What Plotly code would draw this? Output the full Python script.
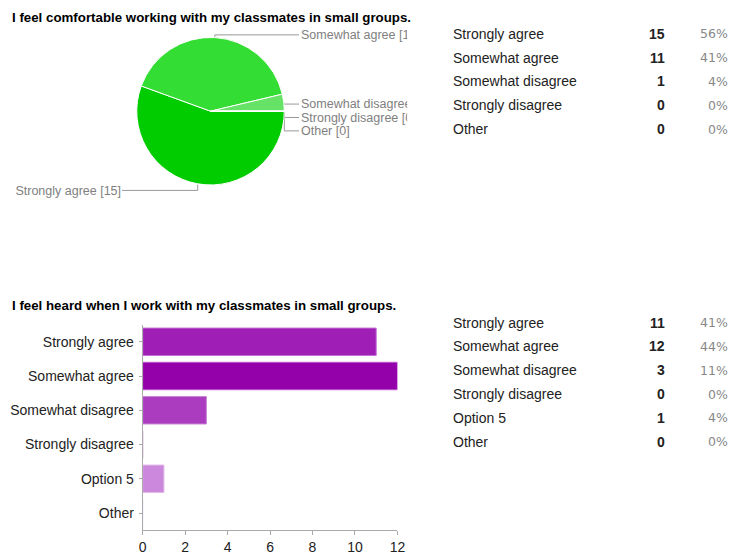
import math
import plotly.graph_objects as go

W, H = 729, 555

# ---------------- data ----------------
title1 = "I feel comfortable working with my classmates in small groups."
cats1 = ["Strongly agree", "Somewhat agree", "Somewhat disagree", "Strongly disagree", "Other"]
vals1 = [15, 11, 1, 0, 0]
pcts1 = ["56%", "41%", "4%", "0%", "0%"]
colors1 = ["#00cc00", "#33dd33", "#66e366", "#99ee99", "#ccf5cc"]

title2 = "I feel heard when I work with my classmates in small groups."
cats2 = ["Strongly agree", "Somewhat agree", "Somewhat disagree", "Strongly disagree", "Option 5", "Other"]
vals2 = [11, 12, 3, 0, 1, 0]
pcts2 = ["41%", "44%", "11%", "0%", "4%", "0%"]
colors2 = ["#9f1fb6", "#9400a9", "#ab3cbf", "#bb66cc", "#cc88dd", "#ddaaee"]
borders2 = ["#c070d0", "#b855cc", "#c880d5", "#d0a0dd", "#e0b8ea", "#eeddf5"]
xticks2 = [0, 2, 4, 6, 8, 10, 12]

FONT = "Liberation Sans, Arial, sans-serif"
PFONT = "DejaVu Sans, Verdana, sans-serif"

def fx(x):
    return x / W

def fy(y):
    return 1 - y / H

fig = go.Figure()

# ---------------- pie ----------------
cx, cy, r = 210, 112, 75
fig.add_trace(go.Pie(
    labels=cats1, values=vals1, sort=False, direction="clockwise", rotation=90,
    marker=dict(colors=colors1, line=dict(color="white", width=1)),
    textinfo="none", hoverinfo="label+value", showlegend=False,
    domain=dict(x=[fx(cx - r), fx(cx + r)], y=[fy(cy + r), fy(cy - r)]),
))

# label layout computed from slice angles
total = sum(vals1)
cum = 0
labels = []
for c, v in zip(cats1, vals1):
    mid = -(cum + v / 2) / total * 2 * math.pi
    cum += v
    ax_ = cx + r * math.cos(mid)
    ay_ = cy - r * math.sin(mid)
    ly = cy - (r + 4) * math.sin(mid) + 2
    side = "right" if math.cos(mid) >= 0 else "left"
    labels.append(dict(text=f"{c} [{v}]", ax=ax_, ay=ay_, ly=ly, side=side))

for side in ("right", "left"):
    grp = sorted([l for l in labels if l["side"] == side], key=lambda d: d["ly"])
    prev = None
    for l in grp:
        if prev is not None and l["ly"] < prev + 13.5:
            l["ly"] = prev + 13.5
        prev = l["ly"]

for l in labels:
    xe = 300 if l["side"] == "right" else 120
    fig.add_trace(go.Scatter(
        x=[l["ax"], l["ax"], xe], y=[l["ay"], l["ly"], l["ly"]],
        mode="lines", line=dict(color="#999999", width=1),
        xaxis="x3", yaxis="y3", showlegend=False, hoverinfo="skip", cliponaxis=True,
    ))
    fig.add_trace(go.Scatter(
        x=[xe + 2 if l["side"] == "right" else xe - 1], y=[l["ly"] + 1],
        text=[l["text"]], mode="text",
        textposition="middle right" if l["side"] == "right" else "middle left",
        textfont=dict(family=FONT, size=12.5, color="#808080"),
        xaxis="x3", yaxis="y3", showlegend=False, hoverinfo="skip", cliponaxis=True,
    ))

# ---------------- bar ----------------
fig.add_trace(go.Bar(
    y=cats2, x=vals2, orientation="h",
    marker=dict(color=colors2, line=dict(color=borders2, width=1)),
    showlegend=False, xaxis="x", yaxis="y",
))

annotations = []
annotations.append(dict(text=f"<b>{title1}</b>", x=fx(9), y=fy(18), xref="paper", yref="paper",
                        xanchor="left", yanchor="middle", showarrow=False, xshift=-3,
                        font=dict(family=FONT, size=13.3, color="#000000")))
annotations.append(dict(text=f"<b>{title2}</b>", x=fx(9), y=fy(308), xref="paper", yref="paper",
                        xanchor="left", yanchor="middle", showarrow=False, xshift=-3,
                        font=dict(family=FONT, size=13.3, color="#000000")))

def table(cats, vals, pcts, y0):
    for i, (c, v, p) in enumerate(zip(cats, vals, pcts)):
        yy = fy(y0 + 24 * i)
        annotations.append(dict(text=c, x=fx(454), y=yy, xref="paper", yref="paper",
                                xanchor="left", yanchor="middle", showarrow=False,
                                font=dict(family=FONT, size=14, color="#222222")))
        annotations.append(dict(text=f"<b>{v}</b>", x=fx(665), y=yy, xref="paper", yref="paper",
                                xanchor="right", yanchor="middle", showarrow=False, xshift=9,
                                font=dict(family=FONT, size=14, color="#222222")))
        annotations.append(dict(text=p, x=fx(729), y=yy, xref="paper", yref="paper",
                                xanchor="right", yanchor="middle", showarrow=False, xshift=9,
                                font=dict(family=PFONT, size=12.5, color="#888888")))

table(cats1, vals1, pcts1, 34)
table(cats2, vals2, pcts2, 325)

fig.update_layout(
    width=W, height=H, margin=dict(l=0, r=0, t=0, b=0),
    paper_bgcolor="white", plot_bgcolor="white",
    bargap=0.2,
    annotations=annotations,
    xaxis=dict(domain=[fx(141), fx(400)], range=[0, 12], tickvals=xticks2,
               showgrid=False, zeroline=False, showline=True, linecolor="#aaaaaa",
               ticks="outside", ticklen=4, tickcolor="#aaaaaa", anchor="y",
               tickfont=dict(family=FONT, size=14, color="#222222")),
    yaxis=dict(domain=[fy(534), fy(327)], autorange="reversed", anchor="x",
               showgrid=False, zeroline=False, showline=True, linecolor="#aaaaaa",
               ticks="outside", ticklen=3, tickcolor="#aaaaaa", ticklabelstandoff=2,
               tickfont=dict(family=FONT, size=14, color="#222222")),
    xaxis3=dict(domain=[0, fx(410)], range=[0, 410], visible=False, anchor="y3", fixedrange=True),
    yaxis3=dict(domain=[fy(280), 1], range=[280, 0], visible=False, anchor="x3", fixedrange=True),
)

fig.write_html("out.html")
